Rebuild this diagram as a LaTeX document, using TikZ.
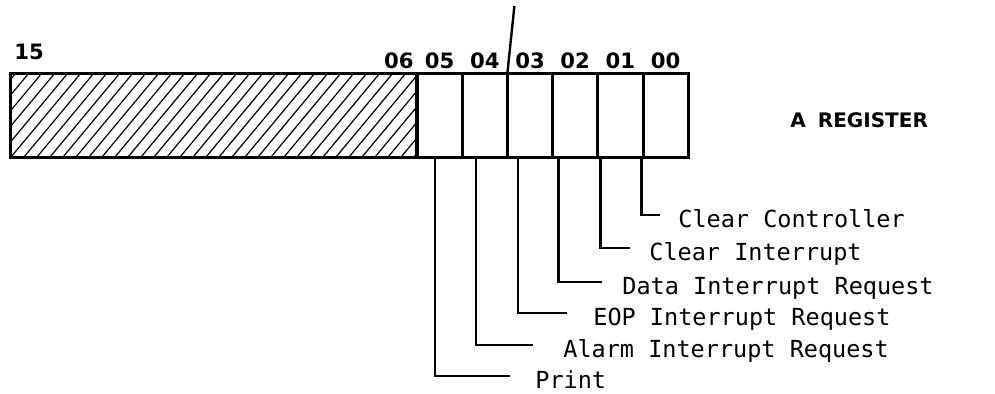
\documentclass[tikz,border=0pt]{standalone}
\usepackage{fontspec}
\newfontfamily\numfont{DejaVu Sans}
\newfontfamily\typefont{DejaVu Sans Mono}
\usetikzlibrary{positioning}
\tikzset{
  cell/.style={draw, line width=1.5pt, minimum width=22.6pt, minimum height=42pt, inner sep=0pt, outer sep=0pt},
  unused/.style={draw, line width=1.5pt, minimum width=203pt, minimum height=42pt, inner sep=0pt, outer sep=0pt},
  bitnum/.style={font=\numfont\bfseries\fontsize{10.6}{11}\selectfont, inner sep=0pt},
  regname/.style={font=\numfont\bfseries\fontsize{10}{11}\selectfont, inner sep=0pt},
  lbl/.style={font=\typefont\fontsize{11.75}{13}\selectfont, inner sep=0pt, anchor=base west},
  leader/.style={line width=1.4pt}
}
\begin{document}
\begin{tikzpicture}[x=0.5pt, y=-0.5pt]
  \useasboundingbox (0,0) rectangle (995,393);

  % --- unused upper bits 15..06 (hatched) ---
  \begin{scope}
    \clip (10,73) rectangle (416,157);
    \foreach \x in {-80,-67,...,420}
      \draw[line width=0.6pt] (\x,157) -- ++(70,-84);
  \end{scope}
  \node[unused] (hatch) at (213,115) {};
  \node[bitnum, anchor=south west] (n15) at (14,60) {15};
  \node[bitnum, anchor=south east, xshift=-1pt, yshift=2pt] (n06) at (hatch.north east) {06};

  % --- control bits 05..00 ---
  \node[cell] (b05) at (439.6,115) {};
  \node[cell, right=0pt of b05] (b04) {};
  \node[cell, right=0pt of b04] (b03) {};
  \node[cell, right=0pt of b03] (b02) {};
  \node[cell, right=0pt of b02] (b01) {};
  \node[cell, right=0pt of b01] (b00) {};
  \foreach \b in {05,04,03,02,01,00}
    \node[bitnum, anchor=south, yshift=2pt] (n\b) at (b\b.north) {\b};

  % stray mark above bit 03
  \draw[line width=1.2pt] (b03.north west) -- ++(7,-67);

  \node[regname, anchor=base west] (areg) at (790,127) {A\hspace{0.6em}REGISTER};

  % --- bit descriptions ---
  \foreach \b/\off/\gap/\tx/\ty/\txt in {
      00/-12.2/9/678/227/Clear Controller,
      01/-10/9.5/649/260/Clear Interrupt,
      02/-8.5/10/622/294/Data Interrupt Request,
      03/-6/13/593/325/EOP Interrupt Request,
      04/-4.4/15/563/357/Alarm Interrupt Request,
      05/-2.3/12.5/535/388/Print}
  {
    \node[lbl] (l\b) at (\tx,\ty) {\txt};
    \draw[leader] ([xshift=\off pt]b\b.south) |- ([xshift=-\gap pt, yshift=6pt]l\b.base west);
  }
\end{tikzpicture}
\end{document}
